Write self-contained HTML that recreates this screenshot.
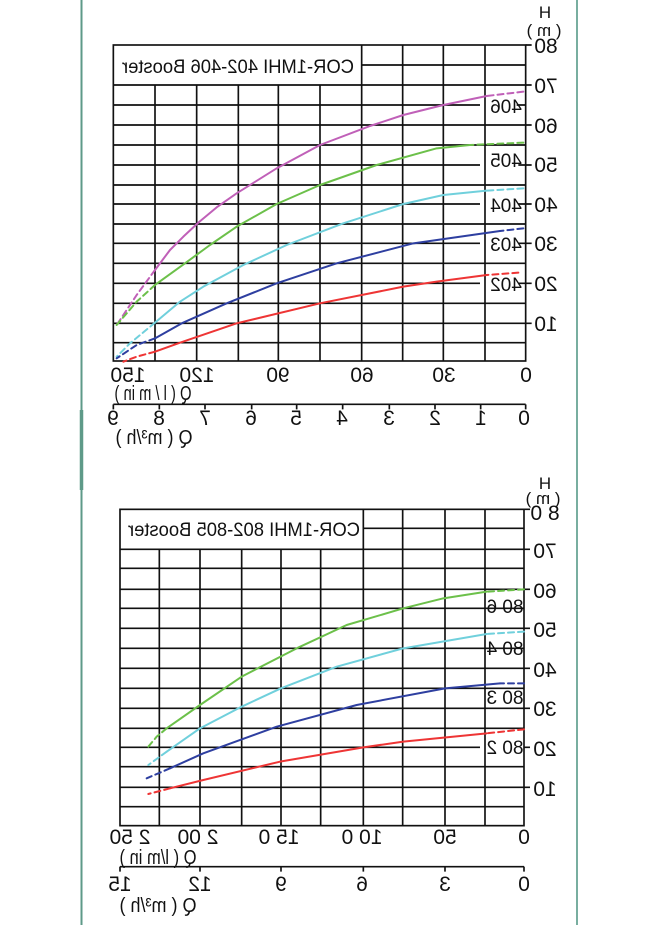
<!DOCTYPE html>
<html><head><meta charset="utf-8"><style>
html,body{margin:0;padding:0;background:#fff;width:650px;height:925px;overflow:hidden}
svg{display:block}
text{font-family:"Liberation Sans",sans-serif;fill:#111}
</style></head><body>
<svg width="650" height="925" viewBox="0 0 650 925" xmlns="http://www.w3.org/2000/svg">
<line x1="81.5" y1="0" x2="81.5" y2="925" stroke="#5e9a88" stroke-width="2"/>
<line x1="81.5" y1="410" x2="81.5" y2="490" stroke="#5e9a88" stroke-width="3.5"/>
<line x1="577" y1="0" x2="577" y2="925" stroke="#6aa596" stroke-width="1.8"/>

<!-- TOP CHART -->
<g transform="translate(70,0) scale(0.33333)" fill="none" stroke="#111" stroke-width="5">
  <rect x="130" y="135" width="1237" height="948"/>
  <path d="M875 195H1367 M130 255H1367 M130 315H1230 M1340 315H1367 M130 375H1367 M130 435H1367 M130 495H1230 M1345 495H1367 M130 555H1367 M130 612H1230 M1345 612H1367 M130 672H1367 M130 730H1230 M1345 730H1367 M130 790H1367 M130 850H1230 M1345 850H1367 M130 910H1367 M130 970H1367 M130 1028H1367"/>
  <path d="M255 255V1083 M380 255V1083 M505 255V1083 M625 255V1083 M750 255V1083 M875 135V1083 M998 135V1083 M1120 135V1083 M1245 135V1083"/>
  <path d="M1367 135H1385 M1367 255H1385 M1367 375H1385 M1367 495H1385 M1367 612H1385 M1367 730H1385 M1367 850H1385 M1367 970H1385"/>
  <path d="M130 1213H1367 M130 1213V1228 M268 1213V1228 M405 1213V1228 M545 1213V1228 M680 1213V1228 M818 1213V1228 M958 1213V1228 M1095 1213V1228 M1232 1213V1228 M1367 1213V1228"/>
  <g stroke-width="6" stroke-linecap="round" stroke-linejoin="round">
  <polyline stroke="#c060b8" points="1250,288 1120,315 1000,345 900,378 750,435 620,505 500,580 440,622 385,668 340,710 300,750 255,810"/>
  <polyline stroke="#c060b8" stroke-dasharray="18,12" points="1360,275 1250,288"/>
  <polyline stroke="#c060b8" stroke-dasharray="18,12" points="255,810 200,885 140,975"/>
  <polyline stroke="#6cc04a" points="1200,435 1100,445 920,495 750,555 620,612 500,680 420,735 345,790 255,855"/>
  <polyline stroke="#6cc04a" stroke-dasharray="18,12" points="1360,428 1200,435"/>
  <polyline stroke="#6cc04a" stroke-dasharray="18,12" points="255,855 200,905 140,975"/>
  <polyline stroke="#70d0dc" points="1250,572 1120,585 1000,612 820,670 650,735 520,795 400,860 330,905 255,968"/>
  <polyline stroke="#70d0dc" stroke-dasharray="18,12" points="1360,565 1250,572"/>
  <polyline stroke="#70d0dc" stroke-dasharray="18,12" points="255,968 180,1030 140,1070"/>
  <polyline stroke="#2e3fa0" points="1290,693 1030,730 800,790 620,850 470,910 335,970 255,1015"/>
  <polyline stroke="#2e3fa0" stroke-dasharray="18,12" points="1360,685 1290,693"/>
  <polyline stroke="#2e3fa0" stroke-dasharray="18,12" points="255,1015 200,1035 140,1075"/>
  <polyline stroke="#ee3535" points="1250,825 1100,845 1000,860 750,910 500,970 330,1028 255,1055"/>
  <polyline stroke="#ee3535" stroke-dasharray="18,12" points="1345,818 1250,825"/>
  <polyline stroke="#ee3535" stroke-dasharray="18,12" points="255,1055 200,1070 160,1085"/>
  </g>
</g>
<g font-size="21" text-anchor="middle">
  <text transform="translate(238,73) scale(-1,1)" font-size="19" textLength="232" lengthAdjust="spacingAndGlyphs">COR-1MHI 402-406 Booster</text>
  <text transform="translate(545,18) scale(-1,1)" font-size="17">H</text>
  <text transform="translate(544,36) scale(-1,1)" font-size="17">( m )</text>
  <text transform="translate(546,53) scale(-1,1)">80</text>
  <text transform="translate(546,93) scale(-1,1)">70</text>
  <text transform="translate(546,133) scale(-1,1)">60</text>
  <text transform="translate(546,172) scale(-1,1)">50</text>
  <text transform="translate(546,212) scale(-1,1)">40</text>
  <text transform="translate(546,251) scale(-1,1)">30</text>
  <text transform="translate(546,291) scale(-1,1)">20</text>
  <text transform="translate(546,331) scale(-1,1)">10</text>
  <text transform="translate(506,113) scale(-1,1)" font-size="19">406</text>
  <text transform="translate(506,167) scale(-1,1)" font-size="19">405</text>
  <text transform="translate(506,212) scale(-1,1)" font-size="19">404</text>
  <text transform="translate(506,251) scale(-1,1)" font-size="19">403</text>
  <text transform="translate(506,291) scale(-1,1)" font-size="19">402</text>
  <text transform="translate(526,382) scale(-1,1)">0</text>
  <text transform="translate(444,382) scale(-1,1)">30</text>
  <text transform="translate(362,382) scale(-1,1)">60</text>
  <text transform="translate(278,382) scale(-1,1)">90</text>
  <text transform="translate(197,382) scale(-1,1)">120</text>
  <text transform="translate(128,382) scale(-1,1)">150</text>
  <text transform="translate(153,400) scale(-1,1)" font-size="20" textLength="77" lengthAdjust="spacingAndGlyphs">Q ( l / m in )</text>
  <text transform="translate(524,425) scale(-1,1)">0</text>
  <text transform="translate(481,425) scale(-1,1)">1</text>
  <text transform="translate(435,425) scale(-1,1)">2</text>
  <text transform="translate(389,425) scale(-1,1)">3</text>
  <text transform="translate(342,425) scale(-1,1)">4</text>
  <text transform="translate(296,425) scale(-1,1)">5</text>
  <text transform="translate(251,425) scale(-1,1)">6</text>
  <text transform="translate(205,425) scale(-1,1)">7</text>
  <text transform="translate(159,425) scale(-1,1)">8</text>
  <text transform="translate(113,425) scale(-1,1)">9</text>
  <text transform="translate(154,444) scale(-1,1)" font-size="20" textLength="77" lengthAdjust="spacingAndGlyphs">Q ( m³/h )</text>
</g>

<!-- BOTTOM CHART -->
<g transform="translate(70,460) scale(0.33333)" fill="none" stroke="#111" stroke-width="5">
  <rect x="150" y="148" width="1212" height="949"/>
  <path d="M880 205H1362 M150 268H1362 M150 325H1362 M150 388H1362 M150 445H1362 M150 505H1362 M150 565H1362 M150 625H1362 M150 685H1362 M150 745H1362 M150 805H1362 M150 862H1230 M150 920H1362 M150 982H1362 M150 1040H1362"/>
  <path d="M268 268V1097 M390 268V1097 M515 268V1097 M633 268V1097 M752 268V1097 M880 148V1097 M998 148V1097 M1125 148V1097 M1245 148V1097"/>
  <path d="M1362 148H1380 M1362 268H1380 M1362 388H1380 M1362 505H1380 M1362 625H1380 M1362 745H1380 M1362 862H1380 M1362 982H1380"/>
  <path d="M150 1220H1362 M150 1220V1235 M390 1220V1235 M633 1220V1235 M880 1220V1235 M1125 1220V1235 M1362 1220V1235"/>
  <g stroke-width="6" stroke-linecap="round" stroke-linejoin="round">
  <polyline stroke="#6cc04a" points="1250,395 1120,415 1000,445 830,495 680,565 515,650 390,735 290,805"/>
  <polyline stroke="#6cc04a" stroke-dasharray="18,12" points="1362,388 1250,395"/>
  <polyline stroke="#6cc04a" stroke-dasharray="18,12" points="290,805 260,830 235,860"/>
  <polyline stroke="#70d0dc" points="1250,522 1000,565 800,620 633,685 515,740 390,805 290,875"/>
  <polyline stroke="#70d0dc" stroke-dasharray="18,12" points="1362,515 1250,522"/>
  <polyline stroke="#70d0dc" stroke-dasharray="18,12" points="290,875 235,915"/>
  <polyline stroke="#2e3fa0" points="1290,670 1125,685 860,735 620,800 400,880 300,925"/>
  <polyline stroke="#2e3fa0" stroke-dasharray="18,12" points="1362,670 1290,670"/>
  <polyline stroke="#2e3fa0" stroke-dasharray="18,12" points="300,925 230,955"/>
  <polyline stroke="#ee3535" points="1250,820 1000,845 880,862 630,905 400,960 300,985"/>
  <polyline stroke="#ee3535" stroke-dasharray="18,12" points="1362,808 1250,820"/>
  <polyline stroke="#ee3535" stroke-dasharray="18,12" points="300,985 235,1002"/>
  </g>
</g>
<g font-size="21" text-anchor="middle">
  <text transform="translate(244,536) scale(-1,1)" font-size="19" textLength="232" lengthAdjust="spacingAndGlyphs">COR-1MHI 802-805 Booster</text>
  <text transform="translate(545,489) scale(-1,1)" font-size="17">H</text>
  <text transform="translate(543,504) scale(-1,1)" font-size="17">( m )</text>
  <text transform="translate(545,520) scale(-1,1)">8 0</text>
  <text transform="translate(545,558) scale(-1,1)">70</text>
  <text transform="translate(545,598) scale(-1,1)">60</text>
  <text transform="translate(545,637) scale(-1,1)">50</text>
  <text transform="translate(545,677) scale(-1,1)">40</text>
  <text transform="translate(545,716) scale(-1,1)">30</text>
  <text transform="translate(545,756) scale(-1,1)">20</text>
  <text transform="translate(545,796) scale(-1,1)">10</text>
  <text transform="translate(505,613) scale(-1,1)" font-size="19">80 6</text>
  <text transform="translate(505,655) scale(-1,1)" font-size="19">80 4</text>
  <text transform="translate(505,704) scale(-1,1)" font-size="19">80 3</text>
  <text transform="translate(505,754) scale(-1,1)" font-size="19">80 2</text>
  <text transform="translate(524,844) scale(-1,1)">0</text>
  <text transform="translate(445,844) scale(-1,1)">50</text>
  <text transform="translate(362,844) scale(-1,1)">10 0</text>
  <text transform="translate(279,844) scale(-1,1)">15 0</text>
  <text transform="translate(198,844) scale(-1,1)">2 00</text>
  <text transform="translate(130,844) scale(-1,1)">2 50</text>
  <text transform="translate(158,864) scale(-1,1)" font-size="20" textLength="77" lengthAdjust="spacingAndGlyphs">Q ( l/m in )</text>
  <text transform="translate(524,891) scale(-1,1)">0</text>
  <text transform="translate(445,891) scale(-1,1)">3</text>
  <text transform="translate(362,891) scale(-1,1)">6</text>
  <text transform="translate(281,891) scale(-1,1)">9</text>
  <text transform="translate(200,891) scale(-1,1)">12</text>
  <text transform="translate(120,891) scale(-1,1)">15</text>
  <text transform="translate(158,912) scale(-1,1)" font-size="20" textLength="77" lengthAdjust="spacingAndGlyphs">Q ( m³/h )</text>
</g>
</svg>
</body></html>
